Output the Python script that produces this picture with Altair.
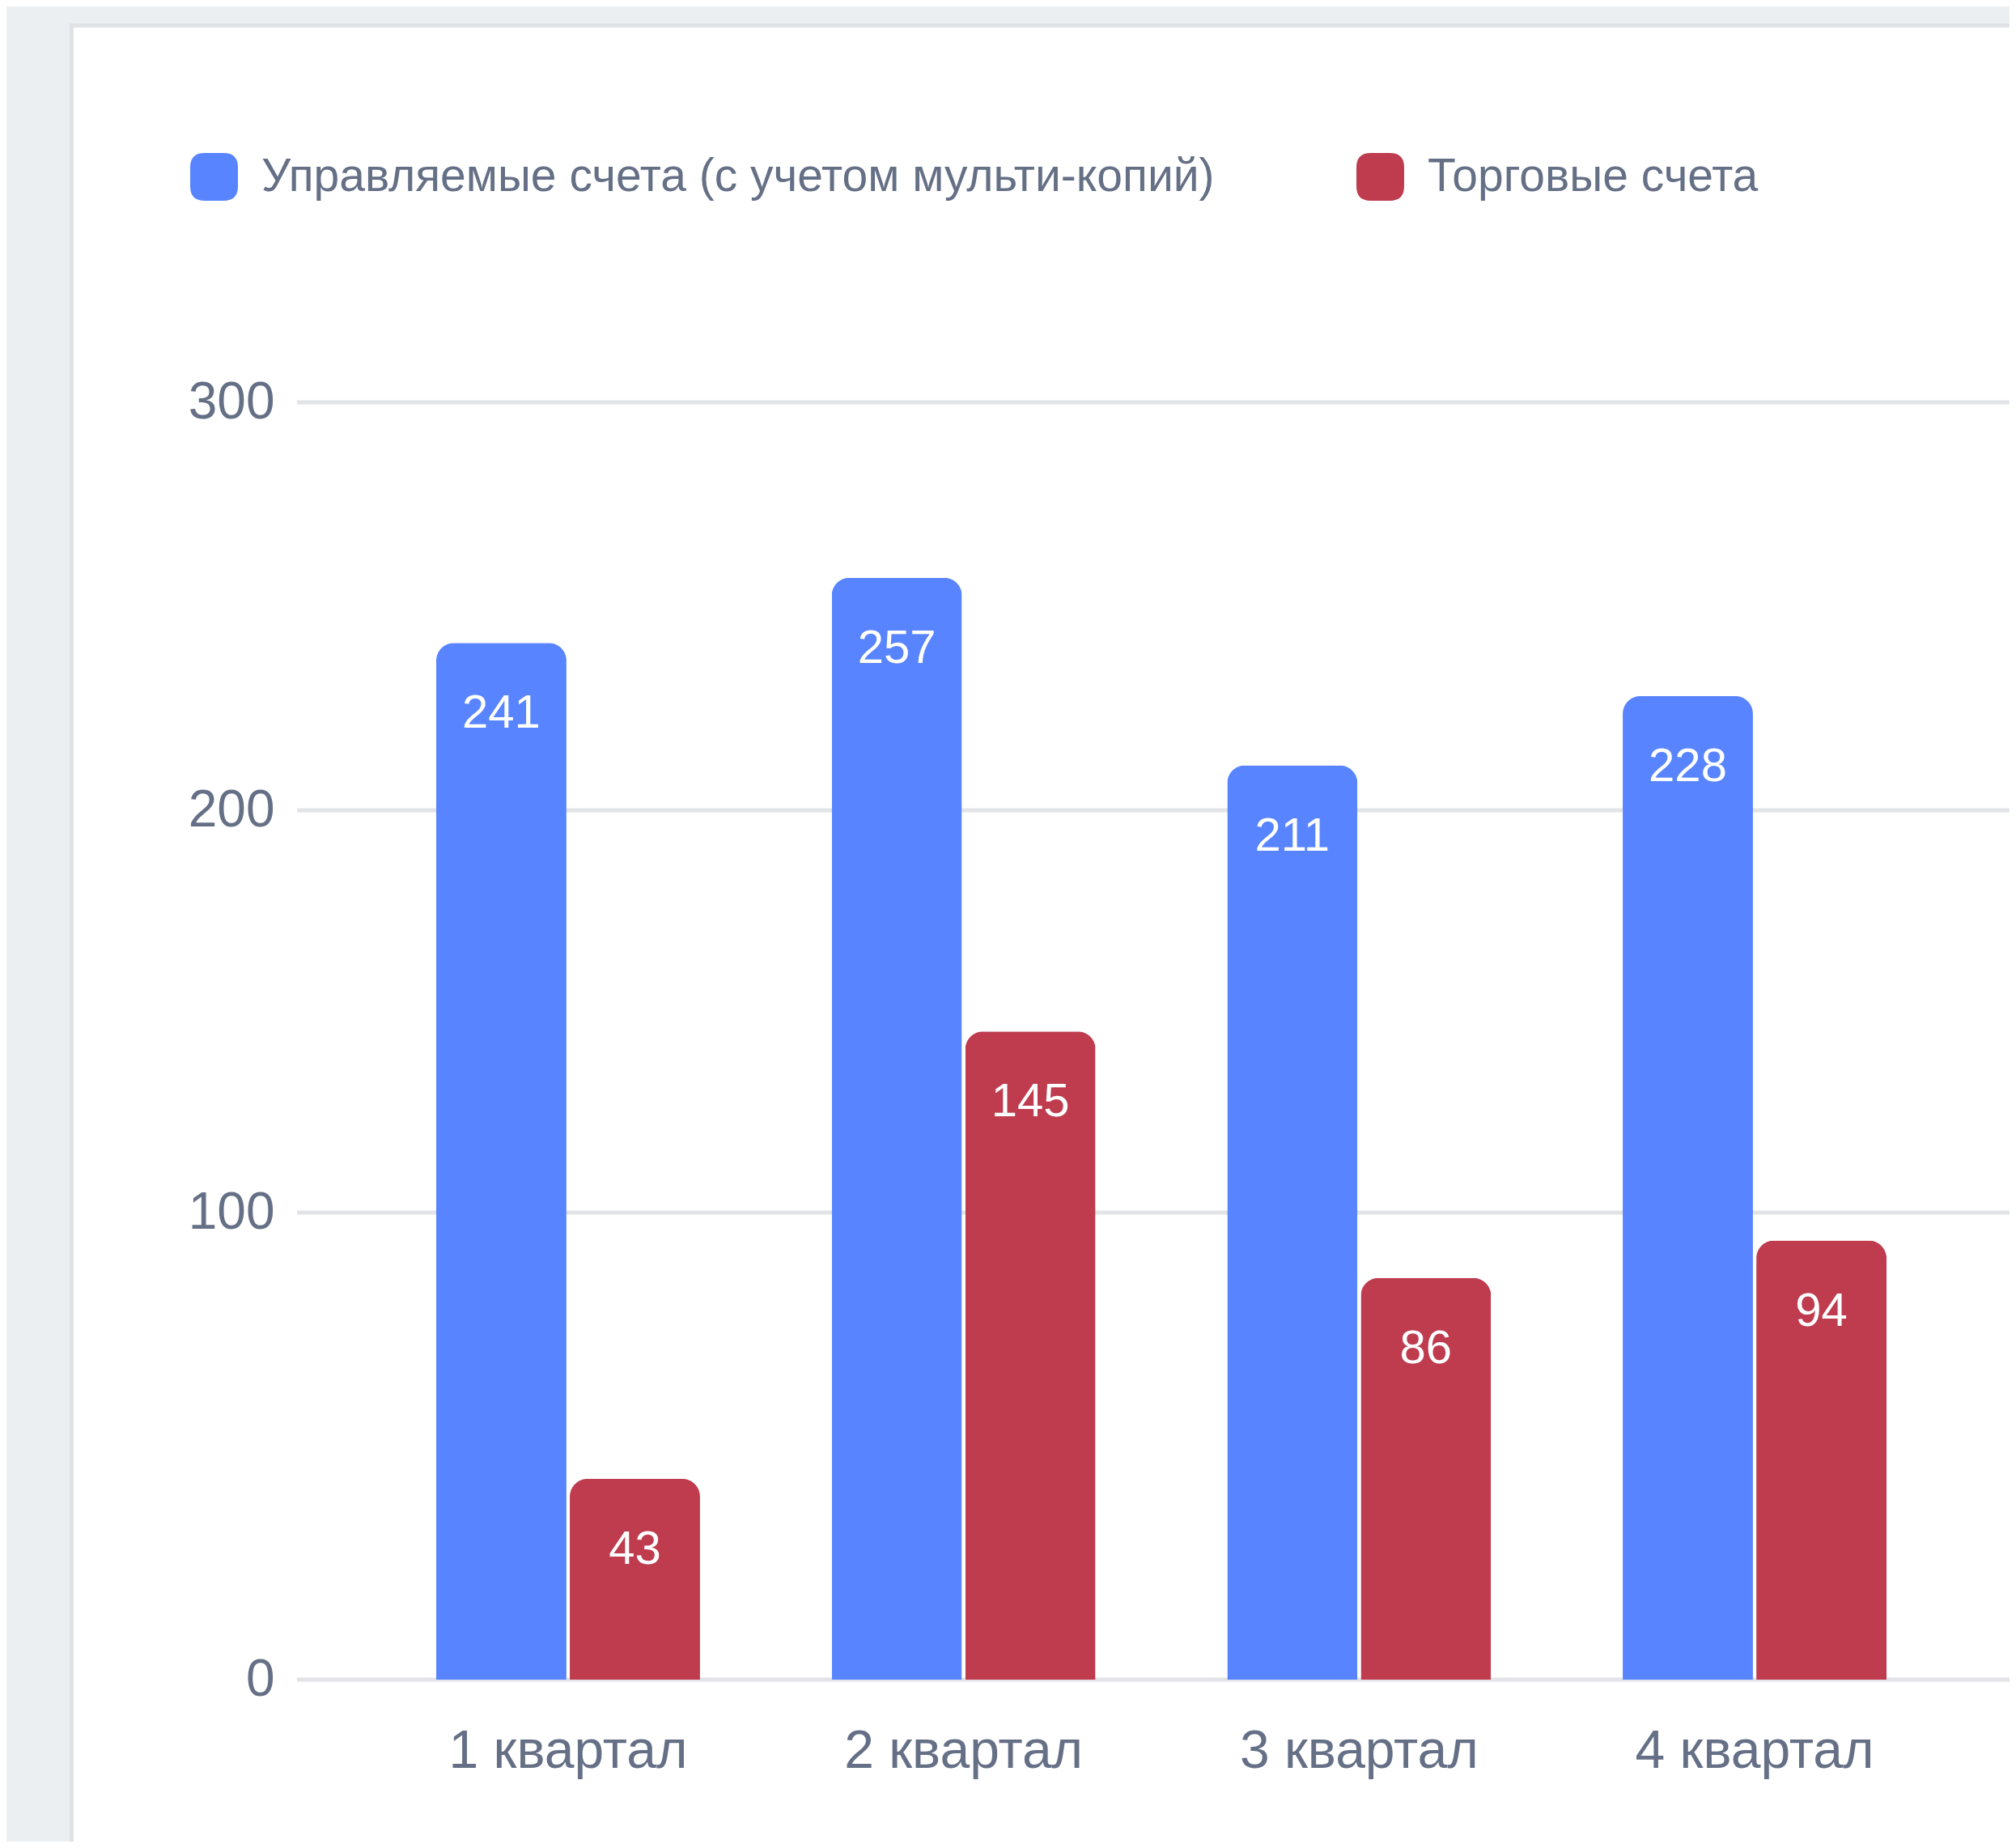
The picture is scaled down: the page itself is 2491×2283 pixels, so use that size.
import altair as alt
import pandas as pd

# ---- data ----
quarters = ["1 квартал", "2 квартал", "3 квартал", "4 квартал"]
series = ["Управляемые счета (с учетом мульти-копий)", "Торговые счета"]
managed = [241, 257, 211, 228]
trading = [43, 145, 86, 94]
y_ticks = [0, 100, 200, 300]
colors = ["#5885FF", "#BF3B4E"]

rows = []
for q, m, t in zip(quarters, managed, trading):
    rows.append({"q": q, "s": series[0], "v": m})
    rows.append({"q": q, "s": series[1], "v": t})
df = pd.DataFrame(rows)
grid_df = pd.DataFrame({"v": y_ticks})

FONT = "Liberation Sans"
LABEL = "#657086"
GRID = "#E1E3E6"
PAGE_BG = "#ECEFF2"

PL, PT = 359, 489          # padding so the plot area starts at (367, 497) on the page
W, H = 2116, 1578
PB = 200

rounded = ("M -0.4,-1 L 0.4,-1 Q 1,-1 1,-0.4 L 1,0.4 Q 1,1 0.4,1 "
           "L -0.4,1 Q -1,1 -1,0.4 L -1,-0.4 Q -1,-1 -0.4,-1 Z")

x = alt.X("q:N", sort=quarters, title=None,
          scale=alt.Scale(range=[172, 1964], paddingInner=0.333, paddingOuter=0),
          axis=alt.Axis(labelAngle=0, ticks=False, tickSize=0, domain=False, grid=False,
                        labelFontSize=66, labelColor=LABEL, labelFont=FONT, labelPadding=56,
                        labelLimit=2000))
xo = alt.XOffset("s:N", sort=series, scale=alt.Scale(paddingInner=0.025))
# piecewise-linear value axis, spaced as the reference's gridlines are
yscale = alt.Scale(domain=y_ticks, range=[H, 1001, 504, 0], nice=False)
y = alt.Y("v:Q", title=None, scale=yscale,
          axis=alt.Axis(values=y_ticks, ticks=False, tickSize=0, domain=False, grid=False,
                        labelFontSize=64, labelColor=LABEL, labelFont=FONT, labelPadding=28))
color = alt.Color("s:N", sort=series, scale=alt.Scale(domain=series, range=colors),
                  legend=alt.Legend(title=None, orient="none", legendX=235 - 367, legendY=189 - 497,
                                    direction="horizontal", symbolType=rounded, symbolSize=3481,
                                    symbolStrokeWidth=0, symbolOpacity=1, labelFontSize=57,
                                    labelFont=FONT, labelColor=LABEL, labelOffset=29,
                                    columnPadding=175, labelLimit=3000, padding=0, rowPadding=0))

one = pd.DataFrame({"a": [0]})
# page background strips around the white card (left of it and above it)
left_strip = alt.Chart(one).mark_rect(fill=PAGE_BG).encode(
    x=alt.value(-PL - 10), x2=alt.value(86 - 367), y=alt.value(-PT - 10), y2=alt.value(H + PB + 10))
top_strip = alt.Chart(one).mark_rect(fill=PAGE_BG).encode(
    x=alt.value(-PL - 10), x2=alt.value(W + 10), y=alt.value(-PT - 10), y2=alt.value(29 - 497))
card_border = alt.Chart(one).mark_rect(fillOpacity=0, stroke="#E1E2E5", strokeWidth=5).encode(
    x=alt.value(88.5 - 367), x2=alt.value(W + 60), y=alt.value(31.5 - 497), y2=alt.value(H + 400))

# horizontal grid lines across the full plot width (carry the y axis labels too)
grid = alt.Chart(grid_df).mark_rule(color=GRID, strokeWidth=5).encode(
    y=y, x=alt.value(0), x2=alt.value(W + 10))

base = alt.Chart(df)
bars = base.mark_bar(cornerRadiusTopLeft=22, cornerRadiusTopRight=22).encode(
    x=x, xOffset=xo, y=y, color=color)
text = base.mark_text(color="white", fontSize=58, font=FONT, baseline="middle", dy=88).encode(
    x=x, xOffset=xo, y=y, text="v:Q")

chart = alt.layer(left_strip, top_strip, card_border, grid, bars, text).properties(
    width=W, height=H,
    autosize=alt.AutoSizeParams(type="none"),
    padding={"left": PL, "top": PT, "right": 0, "bottom": PB},
    background="white",
).configure_view(stroke=None)

chart.save("out.html", embed_options={"renderer": "svg", "actions": False})
